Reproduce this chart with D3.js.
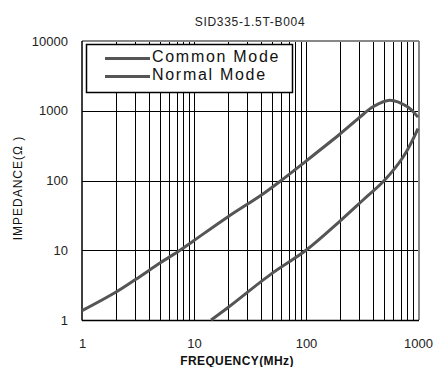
<!DOCTYPE html>
<html><head><meta charset="utf-8">
<script src="https://cdn.jsdelivr.net/npm/d3@7"></script>
<style>body{margin:0;background:#fff}svg{display:block}text{font-family:Arial,"Liberation Sans",sans-serif}</style>
</head><body>
<script>
const title = "SID335-1.5T-B004";
const xTicks = [1, 10, 100, 1000];
const yTicks = [1, 10, 100, 1000, 10000];
const seriesNames = ["Common Mode", "Normal Mode"];
const commonFreq = [1, 2, 3, 5, 7.5, 10, 20, 40, 60, 100, 200, 300, 400, 560, 800, 1000];
const commonZ    = [1.36, 2.5, 3.8, 6.6, 10, 13.8, 30, 62, 100, 190, 460, 800, 1150, 1420, 1150, 810];
const normalFreq = [14.2, 20, 50, 100, 200, 325, 500, 739, 1000];
const normalZ    = [1, 1.5, 4.7, 10, 26, 53, 100, 219, 555];

const W = 435, H = 367;
const m = {left: 82, right: 418, top: 41, bottom: 320};
const svg = d3.select("body").append("svg").attr("width", W).attr("height", H);
const x = d3.scaleLog().domain([1, 1000]).range([m.left, m.right]);
const y = d3.scaleLog().domain([1, 10000]).range([m.bottom, m.top]);

// vertical grid (minor + major)
const vgrid = [];
for (let d = 1; d < 1000; d *= 10) for (let k = 2; k <= 10; k++) vgrid.push(d * k);
svg.append("g").selectAll("line").data(vgrid.filter(v => v < 1000)).join("line")
  .attr("x1", d => Math.round(x(d)) + 0.5).attr("x2", d => Math.round(x(d)) + 0.5)
  .attr("y1", m.top).attr("y2", m.bottom).attr("stroke", "#000").attr("stroke-width", 1);
svg.append("g").selectAll("line").data(yTicks.slice(1, -1)).join("line")
  .attr("x1", m.left).attr("x2", m.right)
  .attr("y1", d => Math.round(y(d)) + 0.5).attr("y2", d => Math.round(y(d)) + 0.5)
  .attr("stroke", "#000").attr("stroke-width", 1);

// frame
svg.append("line").attr("x1", m.left).attr("x2", m.right + 1).attr("y1", m.top).attr("y2", m.top).attr("stroke", "#888").attr("stroke-width", 2);
svg.append("line").attr("x1", m.right + 1).attr("x2", m.right + 1).attr("y1", m.top).attr("y2", m.bottom).attr("stroke", "#888").attr("stroke-width", 2);
svg.append("line").attr("x1", m.left).attr("x2", m.left).attr("y1", m.top).attr("y2", m.bottom + 0.5).attr("stroke", "#000").attr("stroke-width", 1.5);
svg.append("line").attr("x1", m.left).attr("x2", m.right + 1).attr("y1", m.bottom + 0.5).attr("y2", m.bottom + 0.5).attr("stroke", "#000").attr("stroke-width", 1.5);

// curves
const line = d3.line().x(d => x(d[0])).y(d => y(d[1])).curve(d3.curveCatmullRom.alpha(0.5));
const plot = svg.append("g");
plot.append("path").datum(d3.zip(commonFreq, commonZ)).attr("d", line)
  .attr("fill", "none").attr("stroke", "#555").attr("stroke-width", 3);
plot.append("path").datum(d3.zip(normalFreq, normalZ)).attr("d", line)
  .attr("fill", "none").attr("stroke", "#555").attr("stroke-width", 3);

// axes labels
const fmt = d => String(d);
const xAxis = d3.axisBottom(x).tickValues(xTicks).tickFormat(fmt).tickSize(0).tickPadding(19);
const gx = svg.append("g").attr("transform", `translate(0,${m.bottom})`).call(xAxis);
gx.select(".domain").remove();
gx.selectAll("text").attr("font-size", 13).attr("fill", "#222").attr("font-family", "Arial,'Liberation Sans',sans-serif");
const yAxis = d3.axisLeft(y).tickValues(yTicks).tickFormat(fmt).tickSize(0).tickPadding(14);
const gy = svg.append("g").attr("transform", `translate(${m.left},0)`).call(yAxis);
gy.select(".domain").remove();
gy.selectAll("text").attr("font-size", 13).attr("fill", "#222").attr("font-family", "Arial,'Liberation Sans',sans-serif");

svg.append("text").attr("x", 250).attr("y", 26).attr("text-anchor", "middle").attr("font-size", 12)
  .attr("letter-spacing", 0.7).attr("fill", "#222").text(title);
svg.append("text").attr("x", 237).attr("y", 365).attr("text-anchor", "middle").attr("font-size", 12)
  .attr("letter-spacing", 0.4).attr("font-weight", "bold").attr("fill", "#111").text("FREQUENCY(MHz)");
svg.append("text").attr("transform", "translate(22,188) rotate(-90)").attr("text-anchor", "middle").attr("font-size", 12)
  .attr("letter-spacing", 1).attr("fill", "#111").text("IMPEDANCE(Ω )");

// legend
const lg = svg.append("g");
lg.append("rect").attr("x", 86.5).attr("y", 44.5).attr("width", 206).attr("height", 48).attr("fill", "#fff").attr("stroke", "#000").attr("stroke-width", 1.5);
seriesNames.forEach((n, i) => {
  const yy = 58.5 + i * 18;
  lg.append("line").attr("x1", 105).attr("x2", 150).attr("y1", yy).attr("y2", yy).attr("stroke", "#555").attr("stroke-width", 3);
  lg.append("text").attr("x", 152).attr("y", yy + 3.5).attr("font-size", 16).attr("letter-spacing", 1.7)
    .attr("fill", "#111").text(n);
});
</script>
</body></html>
